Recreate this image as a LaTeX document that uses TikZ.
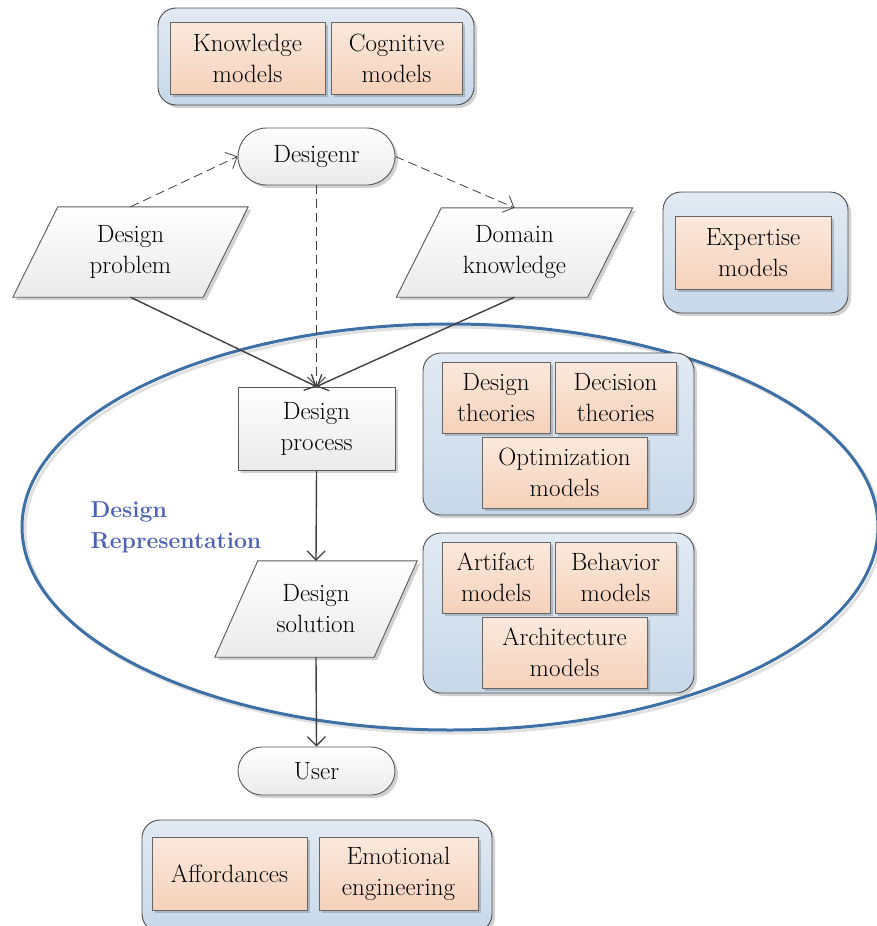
\documentclass[tikz,border=0pt]{standalone}
\usepackage{fontspec}
\usetikzlibrary{shapes.misc,shadows,arrows.meta}
\definecolor{contTop}{RGB}{226,234,243}
\definecolor{contBot}{RGB}{199,216,233}
\definecolor{peachTop}{RGB}{251,233,221}
\definecolor{peachBot}{RGB}{245,209,186}
\definecolor{flowBot}{RGB}{234,234,234}
\definecolor{ellBlue}{RGB}{62,112,166}
\definecolor{repBlue}{RGB}{78,98,182}
\definecolor{lineGray}{RGB}{64,64,64}
\tikzset{
  shad/.style={drop shadow={shadow xshift=3pt,shadow yshift=-3pt,fill=black,opacity=0.18}},
  cont/.style={draw=black!70,line width=0.9pt,rounded corners=18pt,top color=contTop,bottom color=contBot,shad},
  peach/.style={draw=black!60,line width=0.9pt,top color=peachTop,bottom color=peachBot,align=center,inner sep=0pt,shad},
  flowbox/.style={draw=black!65,line width=0.9pt,top color=white,bottom color=flowBot,align=center,inner sep=0pt,shad},
  stadium/.style={flowbox,rounded rectangle},
  paratext/.style={align=center,inner sep=0pt,draw=none},
  paraline/.style={draw=black!65,line width=0.9pt,top color=white,bottom color=flowBot,shad},
  conn/.style={draw=lineGray,line width=1.4pt,-{Straight Barb[length=9pt,width=18pt,line width=1.3pt]}},
  dconn/.style={conn,line width=0.8pt,dash pattern=on 9pt off 5pt,-{Straight Barb[length=9pt,width=18pt,line width=0.8pt]}},
}
\begin{document}
\begin{tikzpicture}[x=1pt,y=-1pt,font=\fontsize{25}{31}\selectfont]
\useasboundingbox (0,0) rectangle (877,926);
% Design representation ellipse
\draw[draw=ellBlue,line width=3pt,drop shadow={shadow xshift=3pt,shadow yshift=-3pt,fill=none,draw=black,opacity=0.12,line width=3pt}] (450,527) ellipse [x radius=428, y radius=203];
\node[anchor=west,align=left,text=repBlue,font=\fontsize{23}{31}\selectfont\bfseries] (rep) at (87,527) {Design\\Representation};

% top container
\node[cont,minimum width=316,minimum height=97] (c1) at (316,56.5) {};
\node[peach,minimum width=155,minimum height=72] (km) at (247.5,58) {Knowledge\\models};
\node[peach,minimum width=131,minimum height=72] (cm) at (396.5,58) {Cognitive\\models};

% designer
\node[stadium,minimum width=157,minimum height=57] (des) at (316.5,156.5) {Desigenr};

% design problem
\node[paratext,minimum width=190,minimum height=90] (dp) at (130.5,252) {};
\path[paraline] ([xshift=22.5]dp.north west) -- ([xshift=22.5]dp.north east) -- ([xshift=-22.5]dp.south east) -- ([xshift=-22.5]dp.south west) -- cycle;
\node[paratext] (dpt) at (dp) {Design\\problem};

% domain knowledge
\node[paratext,minimum width=191,minimum height=89] (dk) at (514.5,252.5) {};
\path[paraline] ([xshift=22.5]dk.north west) -- ([xshift=22.5]dk.north east) -- ([xshift=-22.5]dk.south east) -- ([xshift=-22.5]dk.south west) -- cycle;
\node[paratext] (dkt) at (dk) {Domain\\knowledge};

% expertise
\node[cont,minimum width=185,minimum height=121] (c2) at (755.5,252.5) {};
\node[peach,minimum width=156,minimum height=73] (ex) at (753,252.5) {Expertise\\models};

% design process
\node[flowbox,minimum width=157,minimum height=83] (dproc) at (316.5,428.5) {Design\\process};

% middle container 1
\node[cont,minimum width=271,minimum height=162] (c3) at (558.5,434) {};
\node[peach,minimum width=108,minimum height=71] (dt) at (496,397.5) {Design\\theories};
\node[peach,minimum width=121,minimum height=71] (dct) at (615.5,397.5) {Decision\\theories};
\node[peach,minimum width=165,minimum height=71] (om) at (564.5,472.5) {Optimization\\models};

% middle container 2
\node[cont,minimum width=271,minimum height=160] (c4) at (558.5,613) {};
\node[peach,minimum width=108,minimum height=71] (am) at (496,577.5) {Artifact\\models};
\node[peach,minimum width=121,minimum height=71] (bm) at (615.5,577.5) {Behavior\\models};
\node[peach,minimum width=165,minimum height=71] (arm) at (564.5,652.5) {Architecture\\models};

% design solution
\node[paratext,minimum width=159,minimum height=96] (ds) at (316,609) {};
\path[paraline] ([xshift=21.5]ds.north west) -- ([xshift=21.5]ds.north east) -- ([xshift=-21.5]ds.south east) -- ([xshift=-21.5]ds.south west) -- cycle;
\node[paratext] (dst) at (ds) {Design\\solution};

% user
\node[stadium,minimum width=157,minimum height=48] (user) at (316.5,771) {User};

% bottom container
\node[cont,minimum width=350,minimum height=112] (c5) at (317,876) {};
\node[peach,minimum width=155,minimum height=73] (af) at (229.5,873.5) {Affordances};
\node[peach,minimum width=159,minimum height=73] (ee) at (398.5,873.5) {Emotional\\engineering};

% connectors
\draw[dconn] (dp.north) -- (des.west);
\draw[dconn] (des.east) -- (dk.north);
\draw[dconn] (des.south) -- (dproc.north);
\draw[conn] (dp.south) -- (dproc.north);
\draw[conn] (dk.south) -- (dproc.north);
\draw[conn] (dproc.south) -- (ds.north);
\draw[conn] (ds.south) -- (user.north);
\end{tikzpicture}
\end{document}
